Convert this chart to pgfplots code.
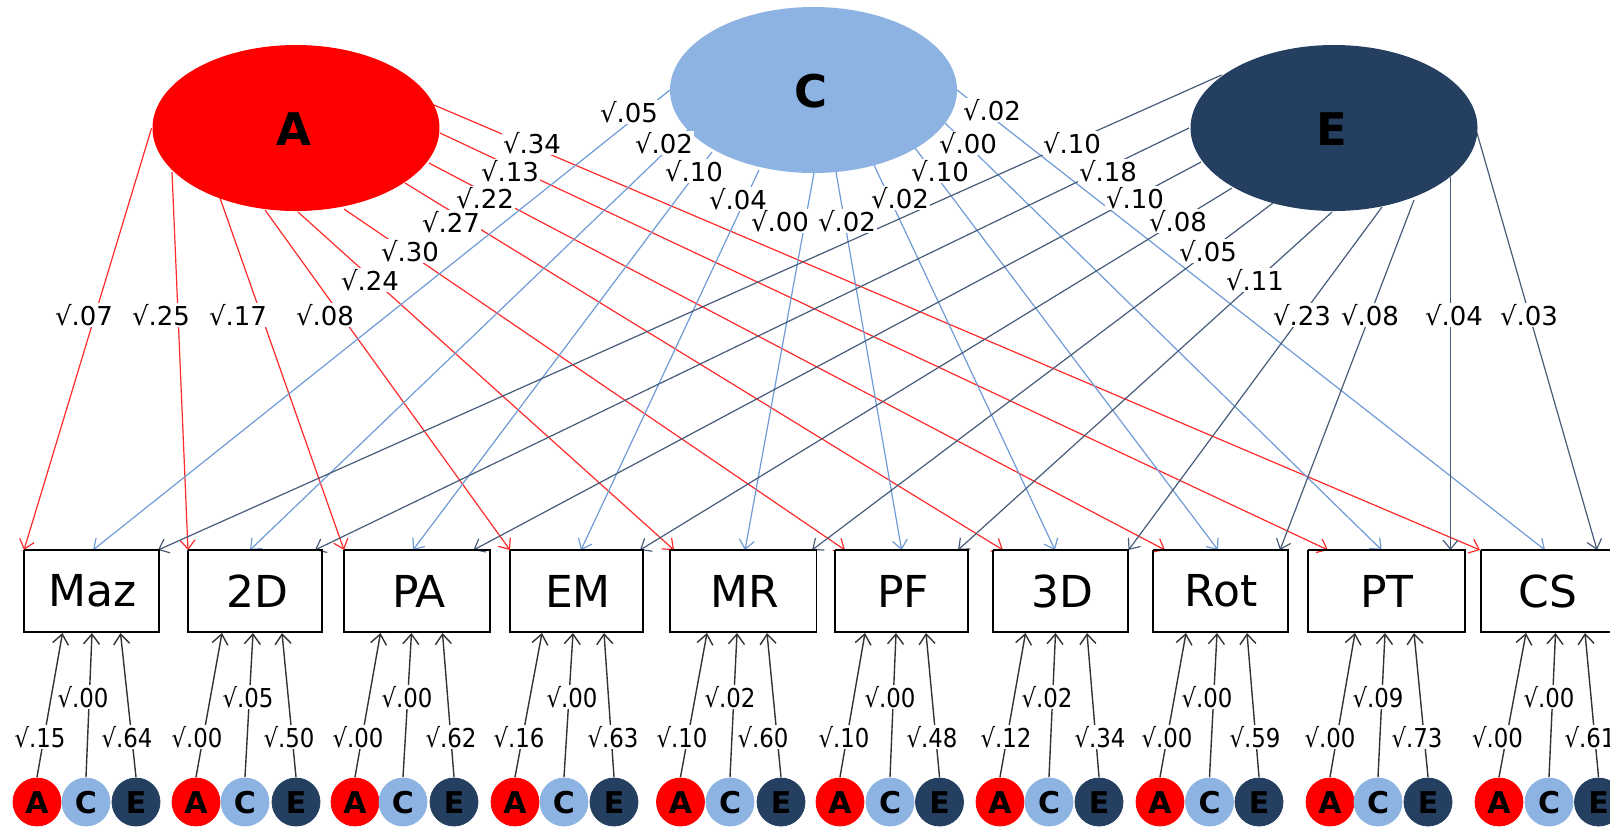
\documentclass[border=0pt]{standalone}
\usepackage{fontspec}
\setmainfont{DejaVu Sans}
\newfontfamily\condfont[FakeStretch=0.88]{DejaVu Sans}
\usepackage{pgfplots}
\pgfplotsset{compat=1.18}
\usetikzlibrary{arrows.meta}
\definecolor{cA}{HTML}{FF0000}
\definecolor{cC}{HTML}{8DB3E2}
\definecolor{cE}{HTML}{243F60}
\definecolor{lA}{HTML}{FF2A2A}
\definecolor{lC}{HTML}{6F9BD6}
\definecolor{lE}{HTML}{465C78}
\definecolor{lK}{HTML}{333333}
\tikzset{
  topA/.style={lA, line width=0.6pt, no markers, -{Straight Barb[length=4.5pt,width=7.5pt]}},
  topC/.style={lC, line width=0.6pt, no markers, -{Straight Barb[length=4.5pt,width=7.5pt]}},
  topE/.style={lE, line width=0.6pt, no markers, -{Straight Barb[length=4.5pt,width=7.5pt]}},
  bot/.style={lK, line width=0.7pt, no markers, -{Straight Barb[length=5pt,width=8pt]}},
  lab/.style={fill=white, inner sep=0.6pt, font=\fontsize{13}{15}\selectfont},
  blab/.style={fill=white, inner sep=0.6pt, font=\condfont\fontsize{13}{15}\selectfont},
  box/.style={black, line width=0.8pt, no markers},
  boxlab/.style={font=\fontsize{22}{26}\selectfont},
  clab/.style={font=\fontsize{15}{18}\selectfont\bfseries},
}
\begin{document}
\begin{tikzpicture}
\begin{axis}[width=805pt, height=413.5pt, scale only axis, hide axis,
  xmin=0, xmax=1610, ymin=0, ymax=827, y dir=reverse, clip=true,
  clip marker paths=true]

% ---- A (red) paths
\addplot[topA] coordinates {(151.5,128.3) (24,550)};
\addplot[topA] coordinates {(172,172) (188,550)};
\addplot[topA] coordinates {(220,198) (344,550)};
\addplot[topA] coordinates {(265,210) (510,550)};
\addplot[topA] coordinates {(298,212) (674,550)};
\addplot[topA] coordinates {(344,209) (845,550)};
\addplot[topA] coordinates {(405,183) (1003,550)};
\addplot[topA] coordinates {(429,163) (1165,550)};
\addplot[topA] coordinates {(440,133) (1328,550)};
\addplot[topA] coordinates {(434,105) (1480,550)};
% ---- C (blue) paths
\addplot[topC] coordinates {(670,90) (93,550)};
\addplot[topC] coordinates {(688,130) (250,550)};
\addplot[topC] coordinates {(712,152) (413,550)};
\addplot[topC] coordinates {(759,170) (581,550)};
\addplot[topC] coordinates {(814,173) (745,550)};
\addplot[topC] coordinates {(836,172) (901.6,550)};
\addplot[topC] coordinates {(874,165) (1055,550)};
\addplot[topC] coordinates {(915,148) (1218,550)};
\addplot[topC] coordinates {(945,123) (1381.6,550)};
\addplot[topC] coordinates {(957,90) (1545,550)};
% ---- E (dark) paths
\addplot[topE] coordinates {(1221.5,75) (158,550)};
\addplot[topE] coordinates {(1189,128) (315,550)};
\addplot[topE] coordinates {(1201,162) (473.5,550)};
\addplot[topE] coordinates {(1232,188) (640,550)};
\addplot[topE] coordinates {(1273,203) (812,550)};
\addplot[topE] coordinates {(1332,212) (958,550)};
\addplot[topE] coordinates {(1382,207) (1128.5,550)};
\addplot[topE] coordinates {(1414,200) (1280,550)};
\addplot[topE] coordinates {(1450.5,177) (1450.5,550)};
\addplot[topE] coordinates {(1477,133) (1597,550)};

% ---- latent ellipses
\fill[cA] (axis cs:296,128) ellipse [x radius=143.5, y radius=83];
\fill[cC] (axis cs:813.5,90) ellipse [x radius=143.5, y radius=83];
\fill[cE] (axis cs:1334,128) ellipse [x radius=143.5, y radius=83];
\node[font=\fontsize{22.5}{26}\selectfont\bfseries] at (axis cs:294,129) {A};
\node[font=\fontsize{22.5}{26}\selectfont\bfseries] at (axis cs:811,91) {C};
\node[font=\fontsize{22.5}{26}\selectfont\bfseries] at (axis cs:1332,129) {E};

% ---- A labels
\node[lab] at (axis cs:84,315) {√.07};
\node[lab] at (axis cs:161,315) {√.25};
\node[lab] at (axis cs:238,315) {√.17};
\node[lab] at (axis cs:325,315) {√.08};
\node[lab] at (axis cs:370,280) {√.24};
\node[lab] at (axis cs:410,251) {√.30};
\node[lab] at (axis cs:451,222) {√.27};
\node[lab] at (axis cs:485,198) {√.22};
\node[lab] at (axis cs:510,171) {√.13};
\node[lab] at (axis cs:532,143) {√.34};
% ---- C labels
\node[lab] at (axis cs:629,112) {√.05};
\node[lab] at (axis cs:664,143) {√.02};
\node[lab] at (axis cs:694,171) {√.10};
\node[lab] at (axis cs:738,199) {√.04};
\node[lab] at (axis cs:780,221) {√.00};
\node[lab] at (axis cs:847,221) {√.02};
\node[lab] at (axis cs:900,198) {√.02};
\node[lab] at (axis cs:940,171) {√.10};
\node[lab] at (axis cs:968,143) {√.00};
\node[lab] at (axis cs:992,110) {√.02};
% ---- E labels
\node[lab] at (axis cs:1072,143) {√.10};
\node[lab] at (axis cs:1108,171) {√.18};
\node[lab] at (axis cs:1135,198) {√.10};
\node[lab] at (axis cs:1178,221) {√.08};
\node[lab] at (axis cs:1208,251) {√.05};
\node[lab] at (axis cs:1255,280) {√.11};
\node[lab] at (axis cs:1302,315) {√.23};
\node[lab] at (axis cs:1370,315) {√.08};
\node[lab] at (axis cs:1454,315) {√.04};
\node[lab] at (axis cs:1529,315) {√.03};

% ---- observed boxes
\addplot[box] coordinates {(24,550) (159,550) (159,632) (24,632) (24,550)};
\addplot[box] coordinates {(188,550) (322,550) (322,632) (188,632) (188,550)};
\addplot[box] coordinates {(344,550) (490,550) (490,632) (344,632) (344,550)};
\addplot[box] coordinates {(510,550) (643,550) (643,632) (510,632) (510,550)};
\addplot[box] coordinates {(670,550) (816.5,550) (816.5,632) (670,632) (670,550)};
\addplot[box] coordinates {(835,550) (968,550) (968,632) (835,632) (835,550)};
\addplot[box] coordinates {(993,550) (1128,550) (1128,632) (993,632) (993,550)};
\addplot[box] coordinates {(1153,550) (1288,550) (1288,632) (1153,632) (1153,550)};
\addplot[box] coordinates {(1308,550) (1465,550) (1465,632) (1308,632) (1308,550)};
\addplot[box] coordinates {(1481,550) (1613,550) (1613,632) (1481,632) (1481,550)};
\node[boxlab] at (axis cs:93,591) {Maz};
\node[boxlab] at (axis cs:257,591) {2D};
\node[boxlab] at (axis cs:419,591) {PA};
\node[boxlab] at (axis cs:578,591) {EM};
\node[boxlab] at (axis cs:745,591) {MR};
\node[boxlab] at (axis cs:903,591) {PF};
\node[boxlab] at (axis cs:1062,591) {3D};
\node[boxlab] at (axis cs:1221,591) {Rot};
\node[boxlab] at (axis cs:1387,591) {PT};
\node[boxlab] at (axis cs:1548,591) {CS};

% ---- residual A/C/E paths
\addplot[bot] coordinates {(37,777) (62.5,633)};
\addplot[bot] coordinates {(86,777) (92,633)};
\addplot[bot] coordinates {(136,777) (120.5,633)};
\addplot[bot] coordinates {(196,777) (222,633)};
\addplot[bot] coordinates {(245,777) (253,633)};
\addplot[bot] coordinates {(296,777) (282,633)};
\addplot[bot] coordinates {(355,777) (380.5,633)};
\addplot[bot] coordinates {(403,777) (411.5,633)};
\addplot[bot] coordinates {(454,777) (442.5,633)};
\addplot[bot] coordinates {(515,777) (542,633)};
\addplot[bot] coordinates {(564,777) (573,633)};
\addplot[bot] coordinates {(614,777) (604,633)};
\addplot[bot] coordinates {(680.5,777) (707,633)};
\addplot[bot] coordinates {(730,777) (737,633)};
\addplot[bot] coordinates {(781,777) (767,633)};
\addplot[bot] coordinates {(840,777) (865,633)};
\addplot[bot] coordinates {(890,777) (896,633)};
\addplot[bot] coordinates {(939.5,777) (926,633)};
\addplot[bot] coordinates {(1000,777) (1025.5,633)};
\addplot[bot] coordinates {(1049,777) (1055.5,633)};
\addplot[bot] coordinates {(1099,777) (1087,633)};
\addplot[bot] coordinates {(1160,777) (1186,633)};
\addplot[bot] coordinates {(1209.5,777) (1217,633)};
\addplot[bot] coordinates {(1259,777) (1247,633)};
\addplot[bot] coordinates {(1330,777) (1355,633)};
\addplot[bot] coordinates {(1378,777) (1385,633)};
\addplot[bot] coordinates {(1428,777) (1414,633)};
\addplot[bot] coordinates {(1499,777) (1526,633)};
\addplot[bot] coordinates {(1549,777) (1555.5,633)};
\addplot[bot] coordinates {(1598.5,777) (1585,633)};

% ---- residual labels
\node[blab] at (axis cs:40,737) {√.15};
\node[blab] at (axis cs:83,697) {√.00};
\node[blab] at (axis cs:127,737) {√.64};
\node[blab] at (axis cs:197,737) {√.00};
\node[blab] at (axis cs:248,697) {√.05};
\node[blab] at (axis cs:289,737) {√.50};
\node[blab] at (axis cs:358,737) {√.00};
\node[blab] at (axis cs:407,697) {√.00};
\node[blab] at (axis cs:451,737) {√.62};
\node[blab] at (axis cs:519,737) {√.16};
\node[blab] at (axis cs:572,697) {√.00};
\node[blab] at (axis cs:613,737) {√.63};
\node[blab] at (axis cs:682,737) {√.10};
\node[blab] at (axis cs:730,697) {√.02};
\node[blab] at (axis cs:763,737) {√.60};
\node[blab] at (axis cs:844,737) {√.10};
\node[blab] at (axis cs:890,697) {√.00};
\node[blab] at (axis cs:932,737) {√.48};
\node[blab] at (axis cs:1006,737) {√.12};
\node[blab] at (axis cs:1047,697) {√.02};
\node[blab] at (axis cs:1100,737) {√.34};
\node[blab] at (axis cs:1167,737) {√.00};
\node[blab] at (axis cs:1207,697) {√.00};
\node[blab] at (axis cs:1255,737) {√.59};
\node[blab] at (axis cs:1330,737) {√.00};
\node[blab] at (axis cs:1378,697) {√.09};
\node[blab] at (axis cs:1417,737) {√.73};
\node[blab] at (axis cs:1497.5,737) {√.00};
\node[blab] at (axis cs:1549,697) {√.00};
\node[blab] at (axis cs:1590,737) {√.61};

% ---- residual circles
\addplot[only marks, mark=*, mark size=12pt, color=cA] coordinates {
 (37,802) (196,802) (355,802) (515,802) (680.5,802) (840,802) (1000,802) (1160,802) (1330,802) (1499,802)};
\addplot[only marks, mark=*, mark size=12pt, color=cC] coordinates {
 (86,802) (245,802) (403,802) (564,802) (730,802) (890,802) (1049,802) (1209.5,802) (1378,802) (1549,802)};
\addplot[only marks, mark=*, mark size=12pt, color=cE] coordinates {
 (136,802) (296,802) (454,802) (614,802) (781,802) (939.5,802) (1099,802) (1259,802) (1428,802) (1598.5,802)};
\pgfplotsinvokeforeach{37,196,355,515,680.5,840,1000,1160,1330,1499}{
  \node[clab] at (axis cs:#1,803) {A};}
\pgfplotsinvokeforeach{86,245,403,564,730,890,1049,1209.5,1378,1549}{
  \node[clab] at (axis cs:#1,803) {C};}
\pgfplotsinvokeforeach{136,296,454,614,781,939.5,1099,1259,1428,1598.5}{
  \node[clab] at (axis cs:#1,803) {E};}
\end{axis}
\pgfresetboundingbox
\path[use as bounding box] (current axis.south west) rectangle (current axis.north east);
\end{tikzpicture}
\end{document}
